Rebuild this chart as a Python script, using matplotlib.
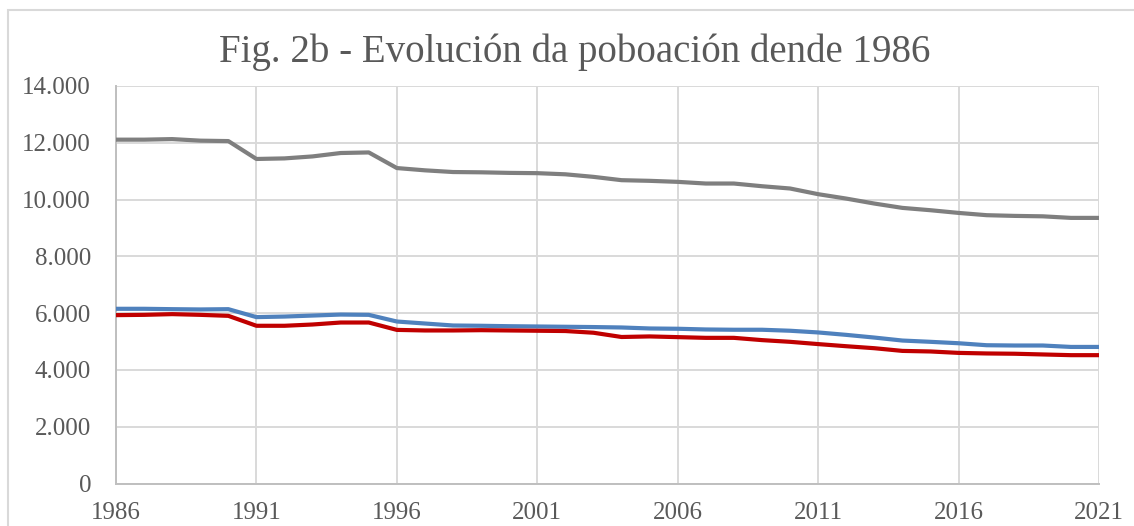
import matplotlib
matplotlib.use('Agg')
from matplotlib import pyplot as plt
from matplotlib.patches import Rectangle

years = list(range(1986, 2022))

total = [12110, 12110, 12130, 12075, 12060, 11430, 11450, 11520, 11640, 11660,
         11110, 11030, 10970, 10960, 10940, 10930, 10890, 10800, 10683, 10660,
         10624, 10565, 10565, 10470, 10390, 10190, 10035, 9860, 9707, 9625,
         9530, 9450, 9425, 9410, 9355, 9355]

blue = [6153, 6153, 6140, 6130, 6140, 5860, 5880, 5915, 5950, 5940,
        5705, 5635, 5565, 5555, 5540, 5530, 5520, 5510, 5495, 5460,
        5450, 5425, 5415, 5415, 5380, 5320, 5235, 5140, 5035, 4990,
        4940, 4870, 4860, 4860, 4810, 4810]

red = [5930, 5940, 5965, 5940, 5905, 5555, 5555, 5600, 5670, 5670,
       5410, 5390, 5390, 5400, 5390, 5380, 5370, 5310, 5160, 5180,
       5155, 5130, 5130, 5050, 4990, 4910, 4835, 4765, 4670, 4650,
       4600, 4580, 4570, 4545, 4520, 4520]

xticks = list(range(1986, 2022, 5))
yticks = list(range(0, 14001, 2000))

plt.rcParams['font.family'] = ['Liberation Serif', 'DejaVu Serif']

fig = plt.figure(figsize=(11.34, 5.26), dpi=100)
fig.patches.append(Rectangle((8/1134, -0.1), 1.2, 0.1 + 516/526,
                             transform=fig.transFigure, fill=False,
                             edgecolor='#d9d9d9', linewidth=1.5))

ax = fig.add_axes([116/1134, 42.5/526, 983/1134, 397.5/526])

for ys, c in [(total, '#7f7f7f'), (blue, '#4f81bd'), (red, '#c00000')]:
    ax.plot(years, ys, color=c, lw=3, solid_joinstyle='round',
            solid_capstyle='butt', zorder=3)

ax.set_xlim(1986, 2021)
ax.set_ylim(0, 14000)
ax.set_xticks(xticks)
ax.set_yticks(yticks)
ax.set_yticklabels([f'{v:,.0f}'.replace(',', '.') for v in yticks])
ax.grid(True, color='#d9d9d9', lw=1.4)
ax.set_axisbelow(True)
for s in ['top', 'right']:
    ax.spines[s].set_visible(False)
for s in ['left', 'bottom']:
    ax.spines[s].set_color('#bfbfbf')
    ax.spines[s].set_linewidth(1.4)
ax.tick_params(length=0, labelsize=18, colors='#595959', pad=18)
ax.tick_params(axis='x', pad=13)

fig.text(0.507, 1 - 52/526, 'Fig. 2b - Evolución da poboación dende 1986',
         ha='center', va='center', fontsize=28, color='#595959')

fig.savefig('out.png', dpi=100)
